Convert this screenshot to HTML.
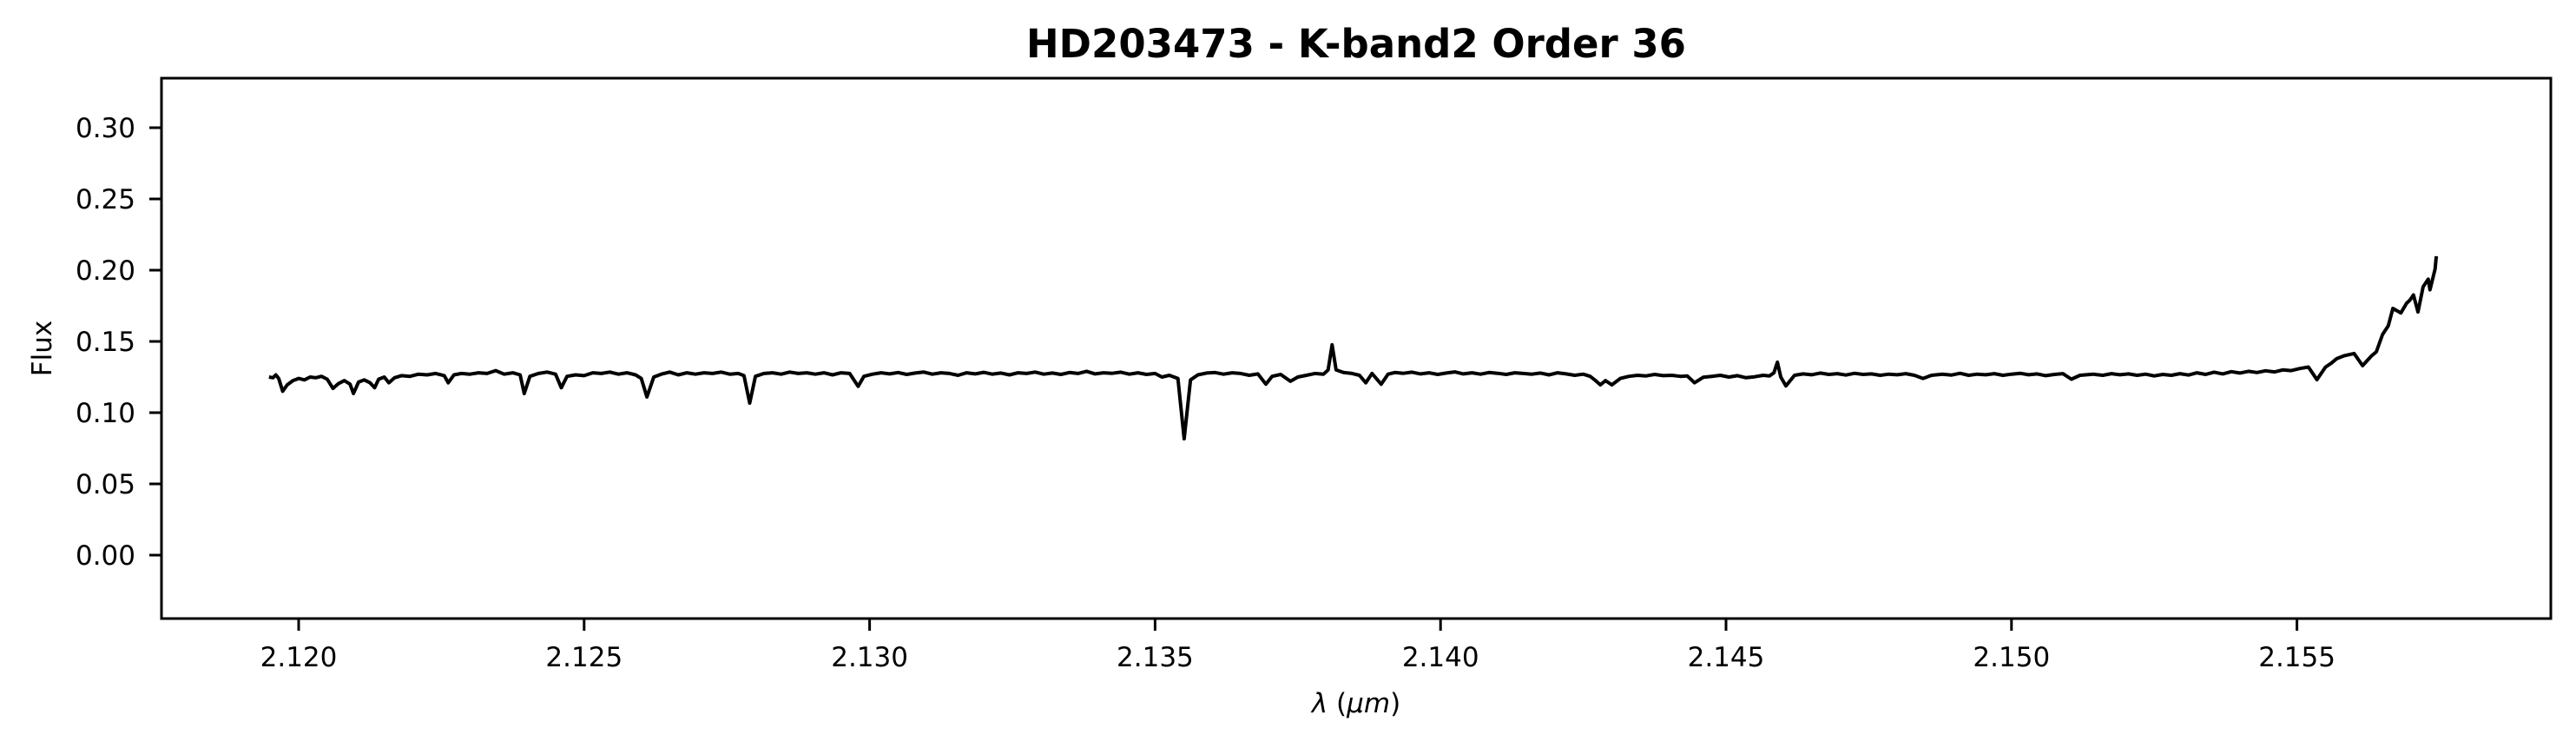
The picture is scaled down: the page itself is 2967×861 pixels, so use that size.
<!DOCTYPE html>
<html><head><meta charset="utf-8"><style>
html,body{margin:0;padding:0;background:#fff;}
svg{display:block;font-family:"DejaVu Sans","Liberation Sans",sans-serif;}
</style></head><body>
<svg id="chart" width="2967" height="861" viewBox="0 0 2967 861" xmlns="http://www.w3.org/2000/svg">
<rect width="2967" height="861" fill="#fff"/>
<text x="1562" y="66" text-anchor="middle" font-size="45" font-weight="bold">HD203473 - K-band2 Order 36</text>
<text x="0" y="0" transform="translate(59,401) rotate(-90)" text-anchor="middle" font-size="31">Flux</text>
<text x="1562" y="820" text-anchor="middle" font-size="31"><tspan font-style="italic">λ</tspan> (<tspan font-style="italic">μm</tspan>)</text>
<g id="plot"></g>
</svg>
<script>
const xTicks = [2.120, 2.125, 2.130, 2.135, 2.140, 2.145, 2.150, 2.155];
const xTickLabels = ["2.120","2.125","2.130","2.135","2.140","2.145","2.150","2.155"];
const yTicks = [0.00, 0.05, 0.10, 0.15, 0.20, 0.25, 0.30];
const yTickLabels = ["0.00","0.05","0.10","0.15","0.20","0.25","0.30"];
const lam = [
2.11948,2.11955,2.11960,2.11965,2.11972,2.11980,2.11990,2.12000,2.12010,2.12020,2.12030,2.12040,2.12050,2.12060,2.12070,2.12080,2.12090,2.12096,2.12105,2.12115,2.12125,2.12133,2.12140,2.12150,2.12158,2.12168,2.12180,2.12195,2.12210,2.12225,2.12240,2.12255,2.12262,2.12272,2.12285,2.12300,2.12315,2.12330,2.12345,2.12360,2.12375,2.12388,2.12395,2.12405,2.12420,2.12435,2.12450,2.12460,2.12470,2.12485,2.12500,2.12515,2.12530,2.12545,2.12560,2.12575,2.12590,2.12600,2.12610,2.12622,2.12635,2.12650,2.12665,2.12680,2.12695,2.12710,2.12725,2.12740,2.12755,2.12770,2.12780,2.12790,2.12800,2.12815,2.12830,2.12845,2.12860,2.12875,2.12890,2.12905,2.12920,2.12935,2.12950,2.12965,2.12980,2.12990,2.13005,2.13020,2.13035,2.13050,2.13065,2.13080,2.13095,2.13110,2.13125,2.13140,2.13155,2.13170,2.13185,2.13200,2.13215,2.13230,2.13245,2.13260,2.13275,2.13290,2.13305,2.13320,2.13335,2.13350,2.13365,2.13380,2.13395,2.13410,2.13425,2.13440,2.13455,2.13470,2.13485,2.13500,2.13512,2.13525,2.13540,2.13551,2.13562,2.13575,2.13590,2.13605,2.13620,2.13635,2.13650,2.13665,2.13680,2.13694,2.13705,2.13720,2.13737,2.13750,2.13765,2.13780,2.13795,2.13803,2.13810,2.13817,2.13830,2.13845,2.13858,2.13869,2.13880,2.13896,2.13908,2.13920,2.13935,2.13950,2.13965,2.13980,2.13995,2.14010,2.14025,2.14040,2.14055,2.14070,2.14085,2.14100,2.14115,2.14130,2.14145,2.14160,2.14175,2.14190,2.14205,2.14220,2.14235,2.14250,2.14262,2.14270,2.14280,2.14289,2.14300,2.14315,2.14330,2.14345,2.14360,2.14375,2.14390,2.14405,2.14420,2.14432,2.14445,2.14460,2.14475,2.14490,2.14505,2.14520,2.14535,2.14550,2.14565,2.14576,2.14584,2.14590,2.14596,2.14605,2.14620,2.14635,2.14650,2.14665,2.14680,2.14695,2.14710,2.14725,2.14740,2.14755,2.14770,2.14785,2.14800,2.14815,2.14830,2.14845,2.14860,2.14879,2.14895,2.14910,2.14925,2.14940,2.14955,2.14970,2.14985,2.15000,2.15015,2.15030,2.15045,2.15060,2.15075,2.15090,2.15105,2.15120,2.15143,2.15160,2.15175,2.15190,2.15205,2.15220,2.15235,2.15250,2.15265,2.15280,2.15295,2.15310,2.15325,2.15340,2.15355,2.15370,2.15385,2.15400,2.15415,2.15430,2.15445,2.15461,2.15475,2.15490,2.15505,2.15520,2.15535,2.15550,2.15560,2.15570,2.15583,2.15600,2.15615,2.15631,2.15639,2.15650,2.15660,2.15668,2.15682,2.15692,2.15698,2.15704,2.15712,2.15721,2.15730,2.15733,2.15742,2.15744,2.15750,2.15755
];
const flux = [
.1250,.1245,.1265,.1240,.1150,.1195,.1225,.1240,.1230,.1250,.1245,.1255,.1235,.1170,.1205,.1225,.1200,.1134,.1215,.1230,.1210,.1175,.1235,.1250,.1210,.1245,.1260,.1255,.1270,.1265,.1275,.1260,.1210,.1265,.1275,.1270,.1280,.1275,.1295,.1270,.1280,.1265,.1134,.1255,.1275,.1285,.1270,.1175,.1255,.1265,.1260,.1280,.1275,.1285,.1270,.1280,.1265,.1240,.1110,.1250,.1270,.1285,.1265,.1280,.1270,.1280,.1275,.1285,.1270,.1275,.1260,.1067,.1255,.1275,.1280,.1270,.1285,.1275,.1280,.1270,.1280,.1265,.1280,.1275,.1185,.1255,.1270,.1280,.1272,.1282,.1268,.1278,.1285,.1270,.1280,.1275,.1262,.1280,.1272,.1283,.1270,.1278,.1265,.1280,.1275,.1285,.1270,.1278,.1268,.1282,.1275,.1290,.1272,.1280,.1276,.1284,.1270,.1280,.1268,.1275,.1250,.1262,.1240,.0817,.1230,.1265,.1278,.1282,.1270,.1280,.1275,.1262,.1272,.1200,.1255,.1268,.1220,.1250,.1262,.1275,.1270,.1300,.1476,.1300,.1282,.1275,.1262,.1210,.1275,.1200,.1270,.1282,.1276,.1284,.1272,.1280,.1268,.1278,.1286,.1272,.1280,.1270,.1282,.1276,.1268,.1280,.1275,.1270,.1278,.1265,.1280,.1272,.1262,.1270,.1255,.1230,.1195,.1225,.1195,.1240,.1255,.1262,.1258,.1268,.1260,.1262,.1255,.1258,.1210,.1248,.1255,.1262,.1250,.1260,.1245,.1252,.1262,.1258,.1280,.1354,.1250,.1188,.1262,.1272,.1266,.1278,.1268,.1274,.1264,.1276,.1268,.1272,.1262,.1270,.1266,.1274,.1262,.1240,.1262,.1270,.1264,.1276,.1262,.1270,.1266,.1274,.1262,.1270,.1276,.1266,.1272,.1260,.1268,.1274,.1235,.1262,.1270,.1262,.1274,.1266,.1272,.1262,.1270,.1258,.1268,.1262,.1274,.1264,.1280,.1268,.1284,.1272,.1288,.1278,.1290,.1282,.1294,.1286,.1300,.1295,.1310,.1320,.1232,.1320,.1347,.1380,.1400,.1415,.1330,.1400,.1427,.1549,.1610,.1732,.1700,.1768,.1790,.1826,.1707,.1883,.1937,.1862,.2008,.2098
];
const X0=186, X1=2938, Y0=90, Y1=712;
function xs(v){return 344 + (v-2.120)/0.005*328.8;}
function ys(v){return 639 - v/0.05*82;}
const NS='http://www.w3.org/2000/svg';
const g=document.getElementById('plot');
function mk(tag,attrs){const e=document.createElementNS(NS,tag);for(const k in attrs)e.setAttribute(k,attrs[k]);g.appendChild(e);return e;}
let d='';
for(let i=0;i<lam.length;i++){d+=(i?'L':'M')+xs(lam[i]).toFixed(1)+','+ys(flux[i]).toFixed(1);}
const line=mk('path',{d:d,fill:'none',stroke:'#000','stroke-width':4,'stroke-linejoin':'round'});


const fr=mk('rect',{x:X0,y:Y0,width:X1-X0,height:Y1-Y0,fill:'none',stroke:'#000','stroke-width':3});


xTicks.forEach((t,i)=>{
  const x=xs(t);
  const tk=mk('line',{x1:x,x2:x,y1:Y1,y2:Y1+14,stroke:'#000','stroke-width':3});
  
  
  const tx=mk('text',{x:x,y:767,'text-anchor':'middle','font-size':31});
  tx.textContent=xTickLabels[i];
  
  
});
yTicks.forEach((t,i)=>{
  const y=ys(t);
  const tk=mk('line',{x1:X0-14,x2:X0,y1:y,y2:y,stroke:'#000','stroke-width':3});
  
  
  const tx=mk('text',{x:156,y:y+11,'text-anchor':'end','font-size':31});
  tx.textContent=yTickLabels[i];
  
  
});
</script>
</body></html>
